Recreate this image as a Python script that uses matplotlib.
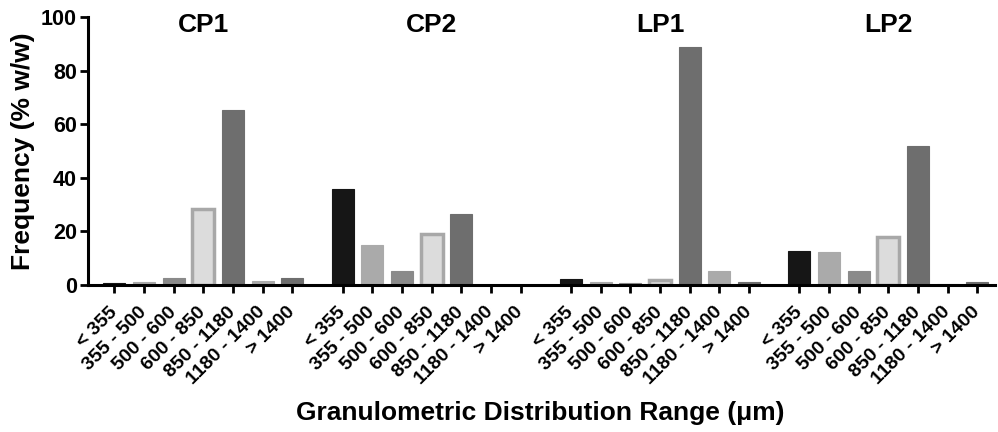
import matplotlib
matplotlib.use("Agg")
import matplotlib.pyplot as plt
import numpy as np

plt.rcParams['font.family'] = ['Liberation Sans', 'DejaVu Sans']
plt.rcParams['font.weight'] = 'bold'

groups = ["CP1", "CP2", "LP1", "LP2"]
ranges = ["< 355", "355 - 500", "500 - 600", "600 - 850", "850 - 1180", "1180 - 1400", "> 1400"]

cp1 = [0.4, 1.0, 2.5, 28.2, 65.3, 1.5, 2.5]
cp2 = [35.8, 14.7, 5.0, 19.0, 26.5, 0.0, 0.0]
lp1 = [2.0, 1.0, 0.5, 1.7, 88.8, 5.2, 1.0]
lp2 = [12.4, 12.0, 5.0, 17.6, 51.9, 0.3, 0.9]
values = [cp1, cp2, lp1, lp2]

face_colors = ["#161616", "#aaaaaa", "#8a8a8a", "#dcdcdc", "#6e6e6e", "#aaaaaa", "#6e6e6e"]
edge_colors = ["#161616", "#aaaaaa", "#8a8a8a", "#a8a8a8", "#6e6e6e", "#aaaaaa", "#6e6e6e"]
edge_widths = [0.8, 0.8, 0.8, 2.5, 0.8, 0.8, 0.8]

fig = plt.figure(figsize=(9.98, 4.32), dpi=100)
ax = fig.add_axes([0.0882, 0.3414, 0.9088, 0.6192])

gap = 7.7
positions = []
labels = []
for g, vals in enumerate(values):
    xs = g * gap + np.arange(len(ranges))
    ax.bar(xs, vals, width=0.74, color=face_colors, edgecolor=edge_colors,
           linewidth=edge_widths, zorder=2)
    positions.extend(xs)
    labels.extend(ranges)
    ax.text(g * gap + 3, 97, groups[g], ha='center', va='center',
            fontsize=19, fontweight='bold')

ax.set_xlim(-0.89, 29.7)
ax.set_ylim(0, 100)
ax.set_yticks([0, 20, 40, 60, 80, 100])
ax.set_xticks(positions)
ax.set_xticklabels(labels, rotation=45, ha='right', va='center',
                   rotation_mode='anchor', fontsize=14, fontweight='bold')
for lab in ax.get_yticklabels():
    lab.set_fontsize(15.5)
    lab.set_fontweight('bold')

ax.spines['top'].set_visible(False)
ax.spines['right'].set_visible(False)
ax.spines['left'].set_linewidth(2.2)
ax.spines['bottom'].set_linewidth(2.2)
ax.tick_params(axis='x', direction='out', length=6, width=2, pad=12)
ax.tick_params(axis='y', direction='out', length=6, width=2, pad=2)

ax.set_ylabel("Frequency (% w/w)", fontsize=19, fontweight='bold', labelpad=4)
fig.text(0.541, 0.044, "Granulometric Distribution Range (\u03bcm)", ha='center',
         va='center', fontsize=19, fontweight='bold')

fig.savefig("out.png", dpi=100)
